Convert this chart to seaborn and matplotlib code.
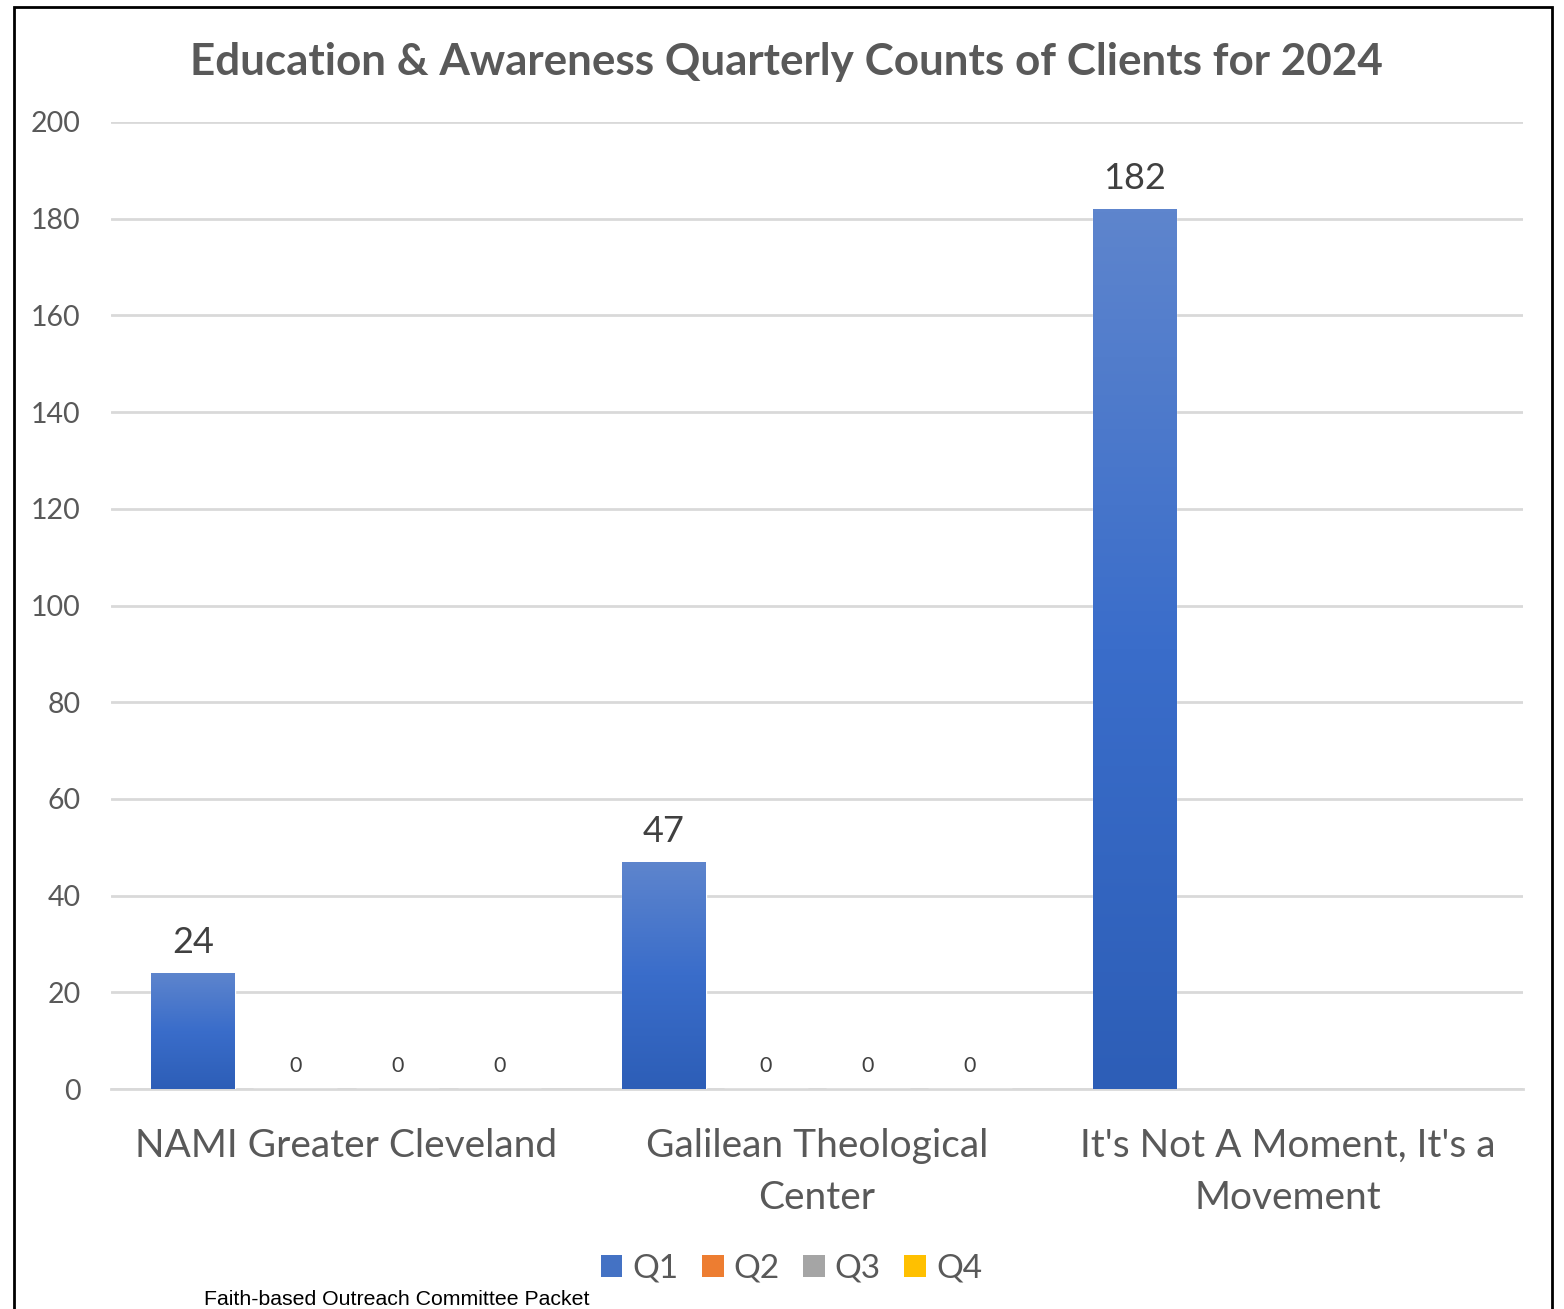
import numpy as np
import pandas as pd
import matplotlib.pyplot as plt
import seaborn as sns
from matplotlib.patches import Patch, Rectangle
from matplotlib.colors import LinearSegmentedColormap

# data
orgs = ["NAMI Greater Cleveland", "Galilean Theological\nCenter", "It's Not A Moment, It's a\nMovement"]
quarters = ["Q1", "Q2", "Q3", "Q4"]
q1 = [24, 47, 182]
q2 = [0, 0, np.nan]
q3 = [0, 0, np.nan]
q4 = [0, 0, np.nan]
colors = ["#4472C4", "#ED7D31", "#A5A5A5", "#FFC000"]

df = pd.DataFrame({"org": orgs, "Q1": q1, "Q2": q2, "Q3": q3, "Q4": q4})
long = df.melt(id_vars="org", var_name="quarter", value_name="count").dropna()

sns.set_theme(style="white")
plt.rcParams["font.family"] = ["Lato", "DejaVu Sans"]

fig = plt.figure(figsize=(15.64, 13.09), dpi=100)
ax = fig.add_axes([111 / 1564, 220 / 1309, 1412 / 1564, 967 / 1309])

sns.barplot(data=long, x="org", y="count", hue="quarter", order=orgs,
            hue_order=quarters, palette=colors, width=0.867, gap=0.18,
            legend=False, ax=ax, zorder=3)

ax.set_yticks(range(0, 201, 20))
ax.grid(axis="y", color="#D9D9D9", linewidth=2, zorder=0)
ax.grid(axis="x", visible=False)
for s in ["top", "right", "left"]:
    ax.spines[s].set_visible(False)
ax.spines["bottom"].set_color("#D9D9D9")
ax.spines["bottom"].set_linewidth(2)
ax.tick_params(axis="y", length=0, labelsize=20.5, labelcolor="#595959", pad=22)
ax.tick_params(axis="x", length=0, labelsize=28, labelcolor="#595959", pad=28)
for t in ax.get_xticklabels():
    t.set_linespacing(1.55)
ax.set_xlabel("")
ax.set_ylabel("")

# gradient fill on the Q1 bars, like the Excel style
grad = LinearSegmentedColormap.from_list("g", ["#2D5EB7", "#3A6DCA", "#5E85CD"])
for bar in ax.containers[0]:
    x0, y0 = bar.get_x(), bar.get_y()
    w, h = bar.get_width(), bar.get_height()
    img = ax.imshow(np.linspace(0, 1, 256).reshape(-1, 1), cmap=grad, origin="lower",
                    extent=[x0, x0 + w, y0, y0 + h], aspect="auto", zorder=4)
    img.set_clip_path(bar)
ax.set_ylim(0, 200)
ax.set_xlim(-0.5, 2.5)

ax.bar_label(ax.containers[0], fontsize=26, color="#404040", padding=10)
for c in ax.containers[1:]:
    ax.bar_label(c, fontsize=15.5, color="#404040", padding=9)

fig.suptitle("Education & Awareness Quarterly Counts of Clients for 2024",
             x=0.503, y=0.968, fontsize=31.7, fontweight="bold", color="#595959")

handles = [Patch(facecolor=c, edgecolor="none") for c in colors]
fig.legend(handles, quarters, loc="center", bbox_to_anchor=(0.506, 0.031), ncol=4,
           frameon=False, fontsize=24, labelcolor="#595959", handlelength=0.65,
           handleheight=0.65, handletextpad=0.3, columnspacing=0.7)

fig.text(204 / 1564, 0.0, "Faith-based Outreach Committee Packet", fontsize=15.3,
         family="Liberation Sans", color="black", va="bottom")

# page border, open at the bottom
fig.add_artist(Rectangle((14 / 1564, -0.05), 1538 / 1564, 1.05 - 7 / 1309,
                         transform=fig.transFigure, fill=False, edgecolor="black",
                         linewidth=2, clip_on=False))

fig.savefig("out.png", dpi=100)
